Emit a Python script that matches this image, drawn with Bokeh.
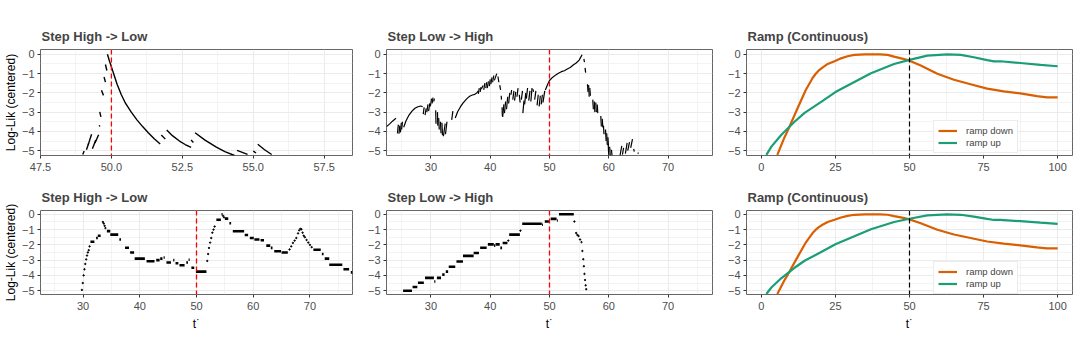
from bokeh.plotting import figure
from bokeh.layouts import column, row
from bokeh.models import Range1d, FixedTicker, Span, Legend, LegendItem, NumeralTickFormatter
from bokeh.embed import file_html
from bokeh.resources import INLINE

FONT = "Liberation Sans"

# ---------------- data ----------------
titles = ["Step High -> Low", "Step Low -> High", "Ramp (Continuous)"]
y_ticks = [-5, -4, -3, -2, -1, 0]
y_minor = [-4.5, -3.5, -2.5, -1.5, -0.5]

# Row 1, Step High -> Low : continuous pieces (t, log-lik)
a1_t = [
    [49.86, 49.93, 50.0, 50.1, 50.2, 50.35, 50.5, 50.7, 50.9, 51.1, 51.3, 51.5, 51.72],
    [51.76, 51.90],
    [51.95, 52.15, 52.4, 52.6, 52.81],
    [52.81, 52.89],
    [52.95, 53.3, 53.7, 54.0, 54.34],
    [54.43, 54.80],
    [55.0, 55.1],
    [55.16, 55.4, 55.65],
    [49.79, 49.84], [49.74, 49.79], [49.65, 49.72], [49.59, 49.63], [49.57, 49.59],
    [48.99, 49.04], [49.12, 49.2], [49.18, 49.3], [49.33, 49.45], [49.42, 49.55],
]
a1_ll = [
    [0.0, -0.35, -0.65, -1.1, -1.55, -2.1, -2.55, -3.0, -3.4, -3.75, -4.07, -4.37, -4.65],
    [-4.19, -4.40],
    [-3.93, -4.22, -4.5, -4.68, -4.83],
    [-4.45, -4.57],
    [-4.07, -4.45, -4.82, -5.05, -5.25],
    [-4.98, -5.19],
    [-5.02, -5.12],
    [-4.67, -4.95, -5.2],
    [-0.53, -0.84], [-1.18, -1.44], [-1.87, -2.13], [-2.99, -3.25], [-3.68, -3.75],
    [-5.2, -5.02], [-4.95, -4.62], [-4.7, -4.15], [-4.9, -4.45], [-4.6, -4.17],
]

# Row 1, Step Low -> High
a2_t = [
    [22.5, 23.0, 23.5, 24.1],
    [24.35, 24.5], [24.6, 24.75], [24.85, 25.0], [25.05, 25.2],
    [25.4, 25.8, 26.3, 26.8, 27.3, 27.8, 28.3, 28.6],
    [28.7, 28.85], [29.0, 29.2], [29.3, 29.5], [29.6, 29.8], [29.9, 30.1], [30.2, 30.35], [30.45, 30.6],
    [30.8, 30.85], [31.1, 31.15], [31.3, 31.4], [31.6, 31.7], [31.85, 31.95], [32.1, 32.4], [32.45, 32.7],
    [33.5, 33.7],
    [34.1, 34.5, 34.96, 35.4, 35.8, 36.2, 36.6, 37.0, 37.4, 37.8, 38.0],
    [38.0, 38.15], [38.3, 38.45], [38.5, 38.8],
    [38.9, 39.1], [39.25, 39.4], [39.5, 39.7], [39.85, 40.0], [40.1, 40.3], [40.4, 40.6], [40.7, 41.1],
    [41.3, 41.45], [41.6, 41.75], [41.85, 41.9], [42.0, 42.05],
    [42.1, 42.3], [42.4, 42.6], [42.75, 42.95], [43.1, 43.3], [43.5, 43.6], [43.8, 44.0], [44.1, 44.3], [44.5, 44.7],
    [44.9, 45.05], [45.25, 45.45], [45.5, 45.7], [45.8, 46.0], [46.1, 46.3], [46.5, 46.7], [46.85, 47.05],
    [47.2, 47.3], [47.5, 47.7], [47.9, 48.1], [48.25, 48.45], [48.6, 48.8], [48.9, 49.2],
    [49.3, 49.7, 50.0, 50.5, 51.0, 51.5, 52.0, 52.5, 53.0, 53.5, 54.0, 54.5, 55.0, 55.5],
    [55.8, 55.9], [56.0, 56.1],
    [56.4, 56.5], [56.6, 56.7], [56.8, 56.9],
    [57.3, 57.4], [57.55, 57.65], [57.8, 57.9], [58.05, 58.15],
    [58.65, 58.75], [58.9, 59.0], [59.1, 59.2],
    [59.45, 59.55], [59.65, 59.75], [59.85, 59.95],
    [59.9, 60.0], [60.15, 60.25], [60.45, 60.55],
    [61.9, 62.2], [62.3, 62.5], [62.8, 63.1], [63.2, 63.5], [63.7, 64.0], [64.2, 64.3], [64.9, 65.0],
]
a2_ll = [
    [-3.75, -3.62, -3.47, -3.32],
    [-4.1, -3.65], [-4.12, -3.7], [-4.05, -3.55], [-3.9, -3.5],
    [-3.78, -3.45, -3.15, -2.95, -2.8, -2.72, -2.68, -2.72],
    [-3.1, -2.75], [-3.15, -2.8], [-3.0, -2.6], [-2.95, -2.55], [-2.7, -2.3], [-2.55, -2.25], [-2.45, -2.3],
    [-2.9, -3.6], [-3.0, -3.7], [-3.3, -3.9], [-3.5, -4.1], [-3.55, -4.2], [-4.25, -3.6], [-4.15, -3.5],
    [-3.4, -2.95],
    [-3.30, -2.98, -2.73, -2.53, -2.39, -2.26, -2.16, -2.11, -2.08, -1.98, -1.9],
    [-2.05, -1.75], [-1.95, -1.7], [-1.8, -1.62],
    [-1.85, -1.5], [-1.75, -1.45], [-1.75, -1.4], [-1.65, -1.3], [-1.55, -1.2], [-1.45, -1.1], [-1.35, -1.0],
    [-1.15, -1.45], [-1.6, -1.85], [-2.15, -2.35], [-2.75, -3.2],
    [-3.25, -2.6], [-3.05, -2.45], [-2.85, -2.2], [-2.55, -2.0], [-2.1, -1.85], [-2.35, -1.9], [-2.4, -1.95], [-2.2, -1.75],
    [-2.1, -2.5], [-2.35, -1.9], [-3.05, -2.4], [-2.6, -2.0], [-2.3, -1.75], [-2.4, -1.9], [-2.45, -1.75],
    [-1.8, -1.95], [-2.35, -1.9], [-2.65, -2.1], [-2.7, -2.15], [-2.6, -2.1], [-2.5, -1.9],
    [-1.85, -1.55, -1.36, -1.2, -1.08, -0.98, -0.9, -0.85, -0.76, -0.68, -0.55, -0.45, -0.3, -0.02],
    [-0.24, -0.4], [-0.7, -0.95],
    [-1.55, -1.95], [-1.6, -2.2], [-1.75, -2.15],
    [-2.35, -2.85], [-2.45, -3.0], [-2.5, -3.0], [-2.6, -3.05],
    [-3.2, -3.75], [-3.35, -3.8], [-3.7, -4.15],
    [-3.9, -4.5], [-4.1, -4.7], [-4.3, -4.75],
    [-4.65, -5.25], [-4.8, -5.25], [-4.95, -5.25],
    [-5.25, -4.75], [-5.2, -4.85], [-5.15, -4.6], [-5.0, -4.55], [-4.85, -4.4], [-4.9, -5.05], [-5.1, -5.15],
]

# Row 2, Step High -> Low : flat steps (start, end, level) and single points
b1_t0 = [31.3, 32.3, 32.6, 34.2, 34.8, 36.4, 37.4, 38.3, 39.1, 41.2, 42.9, 43.6, 44.2, 44.7, 45.9, 46.3,
         47.0, 48.2, 48.6, 49.1, 49.9, 53.5, 54.4, 55.0, 55.8, 56.4, 58.5, 59.4, 60.2, 61.3, 62.3, 63.1,
         63.7, 65.0, 70.6, 72.1, 72.6, 73.4, 75.9, 77.2]
b1_t1 = [32.0, 32.6, 33.1, 34.8, 36.2, 36.7, 38.1, 39.0, 40.9, 42.6, 43.5, 44.0, 44.4, 45.5, 46.1, 46.8,
         47.9, 48.5, 48.8, 49.6, 51.75, 54.3, 54.6, 55.6, 56.1, 58.4, 59.1, 60.1, 61.1, 61.9, 63.0, 63.4,
         64.9, 66.1, 71.9, 72.4, 73.4, 75.7, 76.9, 77.5]
b1_lv = [-1.8, -1.55, -1.4, -1.1, -1.33, -1.65, -2.19, -2.5, -2.9, -3.07, -3.0, -2.9, -2.83, -3.15, -3.0, -3.2,
         -3.33, -3.15, -2.97, -3.5, -3.75, -0.36, 0.0, -0.28, -0.58, -1.11, -1.35, -1.55, -1.65, -1.7, -2.05, -2.2,
         -2.42, -2.5, -2.32, -2.6, -2.9, -3.3, -3.6, -3.8]
b1_pt_t = [29.8, 29.95, 30.1, 30.25, 30.4, 30.55, 30.7, 30.85, 31.0, 31.15,
           33.5, 33.65, 33.8, 33.95,
           51.9, 52.05, 52.2, 52.4, 52.6, 52.8, 53.0, 53.2, 54.7, 54.85,
           66.4, 66.7, 67.0, 67.3, 67.6, 67.9, 68.1, 68.3, 68.5, 68.7, 68.9, 69.1, 69.4, 69.7, 70.0, 70.3]
b1_pt_ll = [-4.95, -4.5, -4.0, -3.6, -3.25, -2.95, -2.7, -2.5, -2.35, -2.1,
            -0.5, -0.6, -0.75, -0.9,
            -3.05, -2.6, -2.2, -1.85, -1.55, -1.2, -1.0, -0.8, -0.1, -0.2,
            -2.3, -2.1, -1.87, -1.72, -1.55, -1.25, -1.05, -0.95, -0.98, -1.2, -1.4, -1.5, -1.68, -1.85, -2.0, -2.15]

# Row 2, Step Low -> High
b2_t0 = [25.3, 26.9, 27.8, 29.0, 30.55, 31.0, 31.9, 32.5, 33.0, 34.3, 35.4, 37.2, 38.3, 39.6, 40.65, 40.9,
         41.7, 42.1, 43.2, 45.4, 48.75, 49.2, 50.2, 51.25, 51.6]
b2_t1 = [26.8, 27.7, 28.8, 30.5, 30.75, 31.7, 32.3, 32.9, 34.1, 35.4, 37.2, 38.1, 39.4, 40.6, 40.85, 41.6,
         42.0, 42.9, 45.0, 48.7, 48.9, 49.9, 51.2, 51.4, 54.1]
b2_lv = [-5.0, -4.76, -4.48, -4.16, -4.4, -4.16, -3.95, -3.75, -3.43, -3.09, -2.72, -2.53, -2.19, -1.97, -2.05, -1.97,
         -2.2, -1.88, -1.33, -0.62, -0.68, -0.47, -0.3, -0.4, 0.0]
b2_pt_t = [43.05, 45.1, 54.2, 54.5, 54.7, 54.9, 55.15, 55.4, 55.55, 55.7, 55.8, 55.9, 56.0, 56.1, 56.2]
b2_pt_ll = [-1.72, -1.07, -0.47, -1.22, -1.35, -1.42, -1.65, -1.82, -2.4, -2.94, -3.4, -3.9, -4.3, -4.65, -4.9]

# Ramp (continuous)
ramp_labels = ["ramp down", "ramp up"]
ramp_down_t = [5.4, 7.85, 9.0, 12.3, 15.0, 16.5, 17.3, 18.3, 19.3, 20.5, 22.4, 24.7, 26.9, 29.1, 31.4, 35.0,
               40.0, 42.6, 44.8, 47.5, 50.0, 53.8, 59.4, 65.0, 70.6, 76.2, 81.8, 87.4, 93.0, 96.4, 100.0]
ramp_down_ll = [-5.22, -4.3, -3.93, -2.77, -1.85, -1.45, -1.23, -1.02, -0.85, -0.70, -0.50, -0.36, -0.21, -0.10,
                -0.03, 0.0, 0.0, -0.03, -0.12, -0.22, -0.33, -0.58, -1.01, -1.32, -1.55, -1.78, -1.92, -2.03,
                -2.17, -2.23, -2.23]
ramp_up_t = [1.7, 3.4, 6.7, 11.2, 14.6, 20.2, 25.0, 31.4, 37.0, 44.8, 50.0, 56.0, 62.8, 67.3, 71.7, 76.2, 78.5,
             80.7, 87.4, 94.2, 100.0]
ramp_up_ll = [-5.22, -4.79, -4.19, -3.5, -3.04, -2.47, -1.96, -1.44, -0.98, -0.5, -0.29, -0.07, 0.0, -0.03, -0.15,
              -0.3, -0.37, -0.36, -0.45, -0.55, -0.62]
change_point = 50

# ---------------- styling helpers ----------------
# (figure width, min border left, min border right)
COLW = [(362, 40, 10), (360, 24, 10), (358, 24, 8)]
# (figure height, min border top, min border bottom)
ROWH = [(181, 49, 26), (152, 28, 39)]

XSPEC = {
    "zoom": ((47.5, 58.5), [47.5, 50, 52.5, 55, 57.5], [48.75, 51.25, 53.75, 56.25]),
    "wide": ((22.5, 77.5), [30, 40, 50, 60, 70], [25, 35, 45, 55, 65, 75]),
    "ramp": ((-5, 105), [0, 25, 50, 75, 100], [12.5, 37.5, 62.5, 87.5]),
}


def make_fig(r, c, title, xkey):
    w, bl, br = COLW[c]
    h, bt, bb = ROWH[r]
    xr, xt, xm = XSPEC[xkey]
    p = figure(width=w, height=h, x_range=Range1d(*xr), y_range=Range1d(-5.25, 0.25),
               output_backend="svg", toolbar_location=None,
               min_border_left=bl, min_border_right=br, min_border_top=bt, min_border_bottom=bb)
    p.title.text = title
    p.title.text_font = FONT
    p.title.text_font_size = "13px"
    p.title.text_font_style = "bold"
    p.title.align = "left"
    p.title.standoff = 12
    p.title.offset = 1
    p.outline_line_color = "#666666"
    p.outline_line_width = 1
    p.background_fill_color = "white"
    p.border_fill_color = "white"
    p.xaxis.ticker = FixedTicker(ticks=xt, minor_ticks=xm)
    p.yaxis.ticker = FixedTicker(ticks=y_ticks, minor_ticks=y_minor)
    if xkey == "zoom":
        p.xaxis.formatter = NumeralTickFormatter(format="0.0")
    for ax in (p.xaxis[0], p.yaxis[0]):
        ax.axis_line_color = None
        ax.major_tick_line_color = "#333333"
        ax.major_tick_out = 3
        ax.major_tick_in = 0
        ax.minor_tick_line_color = None
        ax.major_label_text_font = FONT
        ax.major_label_text_font_size = "11px"
        ax.major_label_text_color = "#4d4d4d"
        ax.major_label_standoff = 3
        ax.axis_label_text_font = FONT
        ax.axis_label_text_font_size = "12px"
        ax.axis_label_text_font_style = "normal"
        ax.axis_label_text_color = "black"
    p.yaxis.axis_label_standoff = 1
    p.yaxis.major_label_standoff = 2
    p.xaxis.axis_label_standoff = 4
    if c == 0:
        p.yaxis.axis_label = "Log-Lik (centered)"
    if r == 1:
        p.xaxis.axis_label = "t\u02d9"
    p.xgrid.grid_line_color = "#ebebeb"
    p.ygrid.grid_line_color = "#ebebeb"
    p.xgrid.grid_line_width = 1.1
    p.ygrid.grid_line_width = 1.1
    p.xgrid.minor_grid_line_color = "#ebebeb"
    p.ygrid.minor_grid_line_color = "#ebebeb"
    p.xgrid.minor_grid_line_width = 0.6
    p.ygrid.minor_grid_line_width = 0.6
    return p


def add_red(p):
    p.add_layout(Span(location=change_point, dimension="height", line_color="#ff0000",
                      line_dash="5 3", line_width=1.3))


def ramp_panel(r):
    p = make_fig(r, 2, titles[2], "ramp")
    rd = p.line(ramp_down_t, ramp_down_ll, line_color="#d95f02", line_width=2.2)
    ru = p.line(ramp_up_t, ramp_up_ll, line_color="#1b9e77", line_width=2.2)
    p.add_layout(Span(location=change_point, dimension="height", line_color="black",
                      line_dash="5 3", line_width=1.2))
    leg = Legend(items=[LegendItem(label=ramp_labels[0], renderers=[rd]),
                        LegendItem(label=ramp_labels[1], renderers=[ru])],
                 location=(187, 2 if r == 0 else 0))
    leg.label_text_font = FONT
    leg.label_text_font_size = "9.5px"
    leg.glyph_width = 19
    leg.glyph_height = 11
    leg.label_height = 11
    leg.label_standoff = 9
    leg.spacing = 1
    leg.padding = 4
    leg.margin = 0
    leg.border_line_color = "#d9d9d9"
    leg.border_line_width = 1
    leg.background_fill_color = "white"
    leg.background_fill_alpha = 1
    p.add_layout(leg)
    return p


# Row 1
p1 = make_fig(0, 0, titles[0], "zoom")
p1.multi_line(a1_t, a1_ll, line_color="black", line_width=1.4)
add_red(p1)

p2 = make_fig(0, 1, titles[1], "wide")
p2.multi_line(a2_t, a2_ll, line_color="black", line_width=1.2)
add_red(p2)

p3 = ramp_panel(0)

# Row 2
p4 = make_fig(1, 0, titles[0], "wide")
p4.segment(b1_t0, b1_lv, b1_t1, b1_lv, line_color="black", line_width=2.6)
p4.scatter(b1_pt_t, b1_pt_ll, size=1.4, color="black")
add_red(p4)

p5 = make_fig(1, 1, titles[1], "wide")
p5.segment(b2_t0, b2_lv, b2_t1, b2_lv, line_color="black", line_width=2.6)
p5.scatter(b2_pt_t, b2_pt_ll, size=1.4, color="black")
add_red(p5)

p6 = ramp_panel(1)

layout = column(row(p1, p2, p3), row(p4, p5, p6))
open("out.html", "w").write(file_html(layout, INLINE))
